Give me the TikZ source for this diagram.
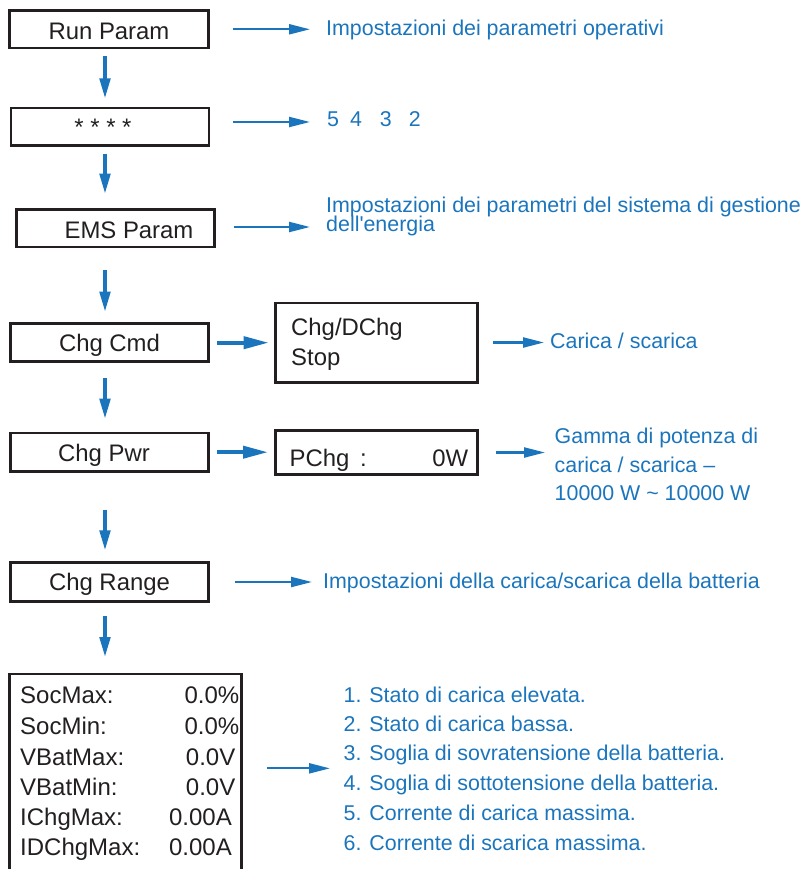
\documentclass[tikz,border=0pt]{standalone}
\usepackage{fontspec}
\setmainfont{Liberation Sans}[Ligatures=TeXOff]
\usetikzlibrary{arrows.meta}
\definecolor{ink}{HTML}{231F20}
\definecolor{blu}{HTML}{1B75BC}
\begin{document}
\begin{tikzpicture}[x=1pt,y=-1pt,
  box/.style={draw=ink, line width=2.6pt, inner sep=0pt, rectangle},
  btxt/.style={inner sep=0pt, anchor=base, text=ink, font=\fontsize{23.9}{28}\selectfont},
  rowtxt/.style={inner sep=0pt, text=ink, font=\fontsize{24}{28}\selectfont},
  note/.style={inner sep=0pt, anchor=base west, text=blu, font=\fontsize{21.4}{24}\selectfont},
  varrow/.style={draw=blu, line width=3.5pt, -{Triangle[length=20pt,width=10.5pt]}},
  harrow/.style={draw=blu, line width=2.2pt, -{Triangle[length=21pt,width=10pt]}},
  tarrow/.style={draw=blu, line width=3.8pt, -{Triangle[length=25pt,width=12pt]}},
]
\useasboundingbox (0,0) rectangle (803,869);
\coordinate (ax) at (105,0);

% boxes
\node[box, minimum width=198.9pt, minimum height=37.4pt] (run)   at (108.75,29.3) {};
\node[box, minimum width=198.1pt, minimum height=37.4pt] (stars) at (109.9,126.7) {};
\node[box, minimum width=198.4pt, minimum height=37.4pt] (ems)   at (115.5,228.3) {};
\node[box, minimum width=198.4pt, minimum height=38pt]   (cmd)   at (109.5,342.7) {};
\node[box, minimum width=198.4pt, minimum height=38.4pt] (pwr)   at (109.5,452.2) {};
\node[box, minimum width=198.4pt, minimum height=38.8pt] (range) at (109.5,582) {};
\node[box, minimum width=202.4pt, minimum height=79.4pt] (chg)   at (376.5,342.5) {};
\node[box, minimum width=202.4pt, minimum height=43.8pt] (pchg)  at (376.5,452.5) {};
\node[box, minimum width=232.1pt, minimum height=224.7pt] (big)  at (125.65,786.35) {};

% box texts
\node[btxt] (trun)   at (109,39.3)   {Run Param};
\node[btxt] (tstars) at (103,136)    {* * * *};
\node[btxt] (tems)   at (129,238.3)  {EMS Param};
\node[btxt] (tcmd)   at (109.5,351.5) {Chg Cmd};
\node[btxt] (tpwr)   at (104,461)    {Chg Pwr};
\node[btxt] (trange) at (109.5,590.5) {Chg Range};
\node[btxt, anchor=base west] (tchg1) at (291,335) {Chg/DChg};
\node[btxt, anchor=base west] (tchg2) at (291,365) {Stop};
\node[btxt, anchor=base west] (tpc1) at (289.5,466) {PChg};
\node[btxt, anchor=base west] (tpc2) at (360,466) {:};
\node[btxt, anchor=base east] (tpc3) at (468.5,466) {0W};

% big box rows
\node[rowtxt, anchor=base west] (r1a) at (20,703.3) {SocMax:};
\node[rowtxt, anchor=base east] (r1b) at (239.5,703.3) {0.0\%};
\node[rowtxt, anchor=base west] (r2a) at (20,734) {SocMin:};
\node[rowtxt, anchor=base east] (r2b) at (239.5,734) {0.0\%};
\node[rowtxt, anchor=base west] (r3a) at (20,765) {VBatMax:};
\node[rowtxt, anchor=base east] (r3b) at (235.5,765) {0.0V};
\node[rowtxt, anchor=base west] (r4a) at (20,795) {VBatMin:};
\node[rowtxt, anchor=base east] (r4b) at (235.5,795) {0.0V};
\node[rowtxt, anchor=base west] (r5a) at (20,825.7) {IChgMax:};
\node[rowtxt, anchor=base east] (r5b) at (232,825.7) {0.00A};
\node[rowtxt, anchor=base west] (r6a) at (20,855) {IDChgMax:};
\node[rowtxt, anchor=base east] (r6b) at (232,855) {0.00A};

% blue notes
\node[note] (n1) at (326,36) {Impostazioni dei parametri operativi};
\node[note] (n2) at (327,127) {5\hspace{11pt}4\hspace{18pt}3\hspace{17pt}2};
\node[note] (n3) at (326,212) {Impostazioni dei parametri del sistema di gestione};
\node[note] (n3b) at (326,231.7) {dell'energia};
\node[note] (n4) at (550,348.3) {Carica / scarica};
\node[note] (n5) at (554.5,443.3) {Gamma di potenza di};
\node[note] (n5b) at (554.5,472.3) {carica / scarica –};
\node[note] (n5c) at (554.5,500.7) {10000 W \textasciitilde{} 10000 W};
\node[note] (n6) at (323,588) {Impostazioni della carica/scarica della batteria};
\node[note] (l1) at (343.5,702.7) {1. Stato di carica elevata.};
\node[note] (l2) at (343.5,731.7) {2. Stato di carica bassa.};
\node[note] (l3) at (343.5,760.7) {3. Soglia di sovratensione della batteria.};
\node[note] (l4) at (343.5,790.7) {4. Soglia di sottotensione della batteria.};
\node[note] (l5) at (343.5,820) {5. Corrente di carica massima.};
\node[note] (l6) at (343.5,850) {6. Corrente di scarica massima.};

% vertical arrows
\draw[varrow, shorten <=7pt, shorten >=8.3pt] (run.south -| ax) -- (stars.north -| ax);
\draw[varrow, shorten <=7pt, shorten >=14.6pt] (stars.south -| ax) -- (ems.north -| ax);
\draw[varrow, shorten <=22pt, shorten >=10.7pt] (ems.south -| ax) -- (cmd.north -| ax);
\draw[varrow, shorten <=15pt, shorten >=13pt] (cmd.south -| ax) -- (pwr.north -| ax);
\draw[varrow, shorten <=37pt, shorten >=11pt] (pwr.south -| ax) -- (range.north -| ax);
\draw[varrow, shorten <=13.6pt, shorten >=15.7pt] (range.south -| ax) -- (big.north -| ax);

% horizontal arrows
\draw[harrow, shorten <=23.8pt, shorten >=16pt] (run.east) -- (run.east -| n1.west);
\draw[harrow, shorten <=23pt, shorten >=17pt] ([yshift=4.7pt]stars.east) -- ([yshift=4.7pt]stars.east -| n2.west);
\draw[harrow, shorten <=17.7pt, shorten >=16pt] ([yshift=1.3pt]ems.east) -- ([yshift=1.3pt]ems.east -| n3.west);
\draw[tarrow, shorten <=7.3pt, shorten >=5.3pt] (cmd.east) -- (cmd.east -| chg.west);
\draw[tarrow, shorten <=7.3pt, shorten >=6pt] (pwr.east) -- (pwr.east -| pchg.west);
\draw[harrow, shorten <=14.3pt, shorten >=6pt] (chg.east) -- (chg.east -| n4.west);
\draw[harrow, shorten <=17pt, shorten >=9.5pt] (pchg.east) -- (pchg.east -| n5.west);
\draw[harrow, shorten <=24.8pt, shorten >=11pt] (range.east) -- (range.east -| n6.west);
\draw[harrow, shorten <=23.8pt, shorten >=13.5pt] ([yshift=18pt]big.east) -- ([yshift=18pt]big.east -| l1.west);
\end{tikzpicture}
\end{document}
